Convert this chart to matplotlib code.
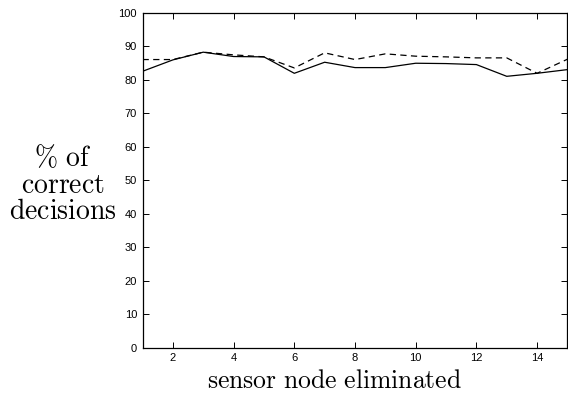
"""
Percent of correct decisions vs eliminated sensor node
"""

import matplotlib
matplotlib.use('Agg')
import matplotlib.pyplot as plt

##data
nodes = [1, 2, 3, 4, 5, 6, 7, 8, 9, 10, 11, 12, 13, 14, 15]
solid_pct = [82.5, 85.9, 88.2, 86.9, 86.8, 81.9, 85.2, 83.6, 83.6, 84.9, 84.8, 84.5, 81.0, 81.9, 83.0]
dashed_pct = [86.0, 86.0, 88.2, 87.4, 86.8, 83.5, 88.0, 86.0, 87.7, 87.0, 86.8, 86.5, 86.5, 81.9, 86.1]
xticks = [2, 4, 6, 8, 10, 12, 14]
yticks = [0, 10, 20, 30, 40, 50, 60, 70, 80, 90, 100]

plt.rcParams['mathtext.fontset'] = 'cm'

fig = plt.figure(figsize=(5.68, 3.94), dpi=100)
plot = fig.add_axes([0.251, 0.117, 0.748, 0.851])

plot.plot(nodes, solid_pct, color='black', lw=0.9)
plot.plot(nodes, dashed_pct, color='black', lw=0.9, ls=(0, (5, 3.5)))

plot.set_xlim(1, 15)
plot.set_ylim(0, 100)
plot.set_xticks(xticks)
plot.set_yticks(yticks)
plot.tick_params(axis='both', direction='in', top=True, right=True, length=4,
                 width=0.7, labelsize=8, pad=4)
for lab in plot.get_xticklabels() + plot.get_yticklabels():
    lab.set_family('Liberation Sans')
for spine in plot.spines.values():
    spine.set_linewidth(0.9)

##labels in computer modern
fig.text(334 / 568, 1 - 388 / 394, r'$\mathrm{sensor\ node\ eliminated}$',
         fontsize=18.5, ha='center', va='baseline')
for txt, ybase in zip([r'$\%\ \mathrm{of}$', r'$\mathrm{correct}$', r'$\mathrm{decisions}$'],
                      [166, 193, 219]):
    fig.text(63 / 568, 1 - ybase / 394, txt, fontsize=20, ha='center', va='baseline')

fig.savefig('out.png', dpi=100)
